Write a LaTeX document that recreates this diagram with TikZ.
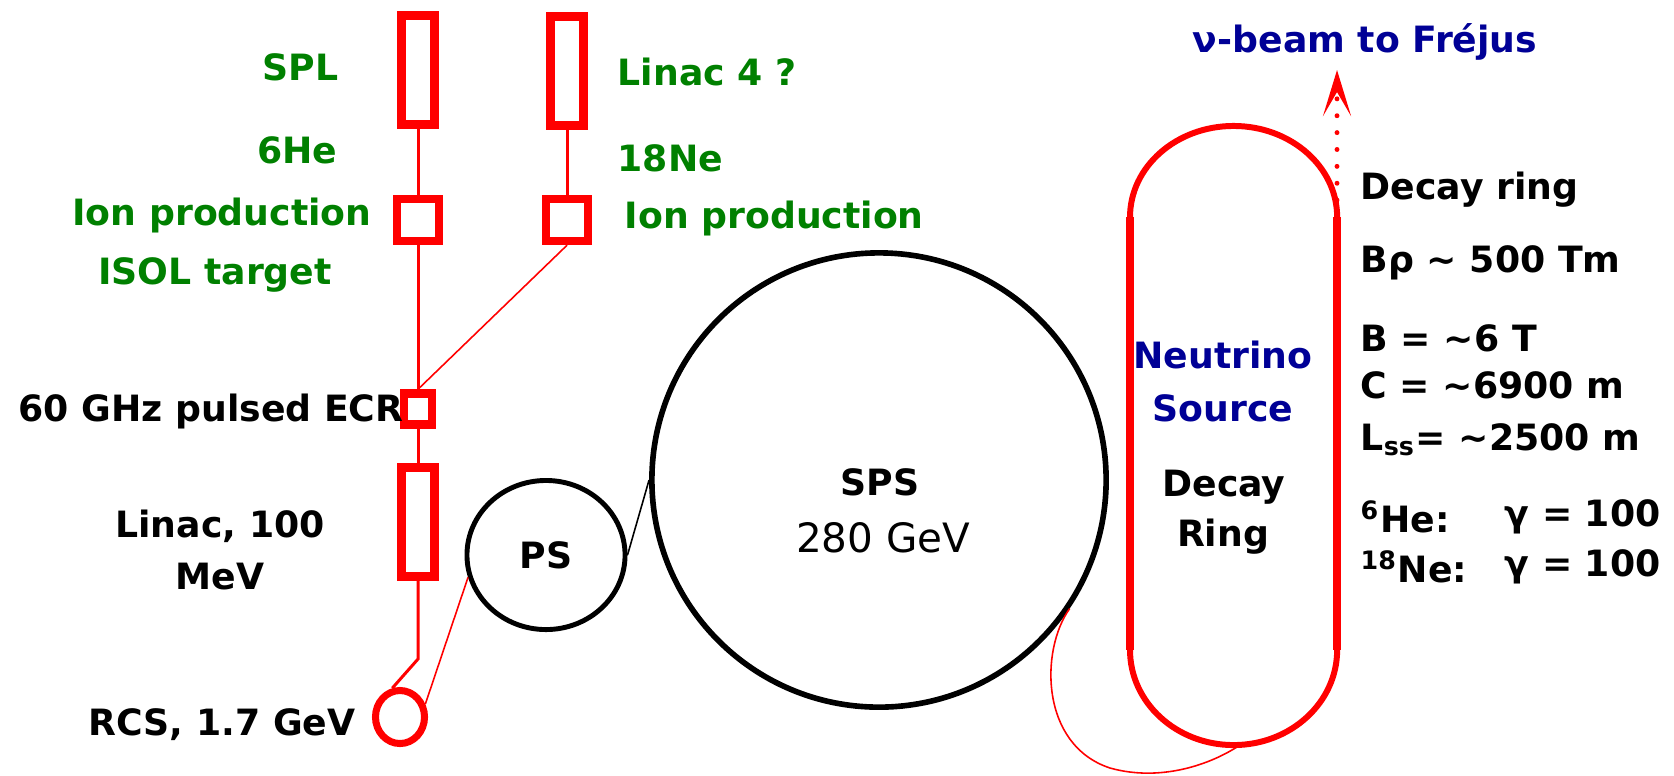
\documentclass[tikz,border=0pt]{standalone}
\usepackage{fontspec}
\setmainfont{DejaVu Sans}
\usetikzlibrary{positioning,arrows.meta,shapes.geometric}
\definecolor{acred}{RGB}{255,0,0}
\definecolor{labgreen}{RGB}{0,128,0}
\definecolor{srcblue}{RGB}{0,0,150}

\begin{document}
\begin{tikzpicture}[x=0.01cm,y=-0.01cm,
  every node/.style={font=\fontsize{10.3}{12.4}\selectfont\bfseries,inner sep=0pt},
  linacbox/.style={draw=acred,line width=2.4pt,minimum width=0.33cm,minimum height=1.09cm},
  ionbox/.style={draw=acred,line width=2.4pt,minimum width=0.42cm,minimum height=0.42cm},
  ecrbox/.style={draw=acred,line width=2.4pt,minimum width=0.28cm,minimum height=0.31cm},
  rcsring/.style={ellipse,draw=acred,line width=2pt,minimum width=0.49cm,minimum height=0.53cm},
  psring/.style={ellipse,draw,line width=1.4pt,minimum width=1.58cm,minimum height=1.49cm},
  spsring/.style={circle,draw,line width=1.6pt,minimum size=4.54cm},
  beamline/.style={acred,line width=0.85pt},
  thinred/.style={acred,line width=0.45pt},
  ringstraight/.style={acred,line width=2.3pt},
  ringarc/.style={acred,line width=1.7pt},
  greenlab/.style={text=labgreen},
  bluelab/.style={text=srcblue},
  beamarrow/.style={acred,line width=1.4pt,dash pattern=on 0pt off 4.8pt,line cap=round,
    -{Stealth[length=0.46cm,width=0.28cm,inset=0.24cm]}}]
\useasboundingbox (0,0) rectangle (1674,775);
\node[linacbox] (spl) at (418,70) {};
\node[ionbox] (ionL) at (418,220) {};
\node[ecrbox] (ecr) at (418,409) {};
\node[linacbox] (linac) at (418,522) {};
\node[rcsring] (rcs) at (400,717) {};
\node[linacbox] (linacIV) at (567,71) {};
\node[ionbox] (ionR) at (567,220) {};
\node[psring] (ps) at (546,555) {PS};
\node[spsring] (sps) at (879,480) {};
\coordinate (bend) at (418,659);
\draw[beamline] (spl) -- (ionL);
\draw[beamline] (ionL) -- (ecr);
\draw[beamline] (ecr) -- (linac);
\draw[beamline] (linac.south) -- (bend) -- (rcs.105);
\draw[beamline] (linacIV) -- (ionR);
\draw[thinred] (ionR.south) -- (ecr.north);
\draw[thinred] (rcs.27) -- (ps.196);
\draw[line width=0.45pt] (ps.east) -- (sps.west);
\coordinate (ringNW) at (1130,217);
\coordinate (ringNE) at (1337,217);
\coordinate (ringSW) at (1130,650);
\coordinate (ringSE) at (1337,650);
\coordinate (ringS) at (1240,745);
\draw[ringstraight] (ringNW) -- (ringSW);
\draw[ringstraight] (ringNE) -- (ringSE);
\draw[ringarc] (ringNW) arc[start angle=180,end angle=0,x radius=1.035cm,y radius=0.91cm];
\draw[ringarc] (ringSW) arc[start angle=180,end angle=360,x radius=1.035cm,y radius=0.95cm];
\draw[thinred] (sps.-34) .. controls (1040,650) and (1040,745) .. (1110,768)
  .. controls (1160,782) and (1210,765) .. (ringS);
\node[bluelab] (beam) at (1365,42) {ν-beam to Fréjus};
\coordinate (beamtip) at (1337,70);
\draw[beamarrow] (ringNE) -- (beamtip);
\node[greenlab,anchor=east] (splL) at (339,67) {SPL};
\node[greenlab,anchor=east] (heL) at (338,150) {6He};
\node[greenlab] (ionLL) at (222,215) {Ion production};
\node[greenlab] (isolL) at (215,275) {ISOL target};
\node (ecrL) at (211,411) {60 GHz pulsed ECR};
\node (linacL) at (220,526) {Linac, 100};
\node (mevL) at (220,577) {MeV};
\node (rcsL) at (222,725) {RCS, 1.7 GeV};
\node[greenlab,anchor=west] (linacIVL) at (617,72) {Linac 4 ?};
\node[greenlab,anchor=west] (neL) at (617,158) {18Ne};
\node[greenlab,anchor=west] (ionRL) at (624,218) {Ion production};
\node (spsL) at (880,482) {SPS};
\node[font=\fontsize{11.5}{13.8}\selectfont] (spsE) at (883,538) {280 GeV};
\node[bluelab] (nuL) at (1223,355) {Neutrino};
\node[bluelab] (srcL) at (1223,408) {Source};
\node (decL) at (1224,487) {Decay};
\node (ringL) at (1223,537) {Ring};
\node[anchor=west] (drL) at (1360,190) {Decay ring};
\node[anchor=west] (brhoL) at (1360,263) {Bρ \textasciitilde{} 500 Tm};
\node[anchor=west] (bL) at (1360,338) {B = \textasciitilde6 T};
\node[anchor=west] (cL) at (1360,385) {C = \textasciitilde6900 m};
\node[anchor=west] (lssL) at (1360,440) {L\textsubscript{ss}= \textasciitilde2500 m};
\node[anchor=west] (heR) at (1360,517) {\textsuperscript{6}He:};
\node[anchor=west] (neR) at (1360,567) {\textsuperscript{18}Ne:};
\node[anchor=west] (heG) at (1504,517) {γ = 100};
\node[anchor=west] (neG) at (1504,567) {γ = 100};
\end{tikzpicture}
\end{document}
